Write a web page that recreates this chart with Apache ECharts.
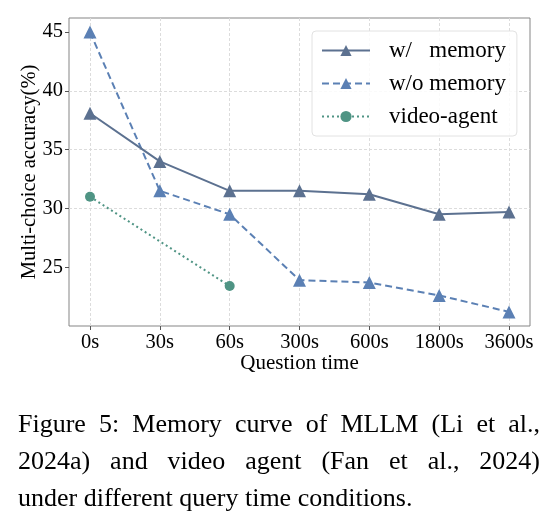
<!DOCTYPE html>
<html>
<head>
<meta charset="utf-8">
<script src="https://cdn.jsdelivr.net/npm/echarts@6/dist/echarts.min.js"></script>
<style>
  html, body { margin: 0; padding: 0; background: #fff; }
  #chart { width: 558px; height: 520px; }
</style>
</head>
<body>
<div id="chart"></div>
<script>
// categories and series values
var categories = ['0s', '30s', '60s', '300s', '600s', '1800s', '3600s'];
var withMemory = [38.1, 34.0, 31.5, 31.5, 31.2, 29.5, 29.7];
var withoutMemory = [45.0, 31.5, 29.5, 23.9, 23.7, 22.6, 21.2];
var videoAgent = [31.0, '-', 23.4];
var yTicks = [25, 30, 35, 40, 45];
var captionLines = [
  'Figure 5: Memory curve of MLLM (Li et al.,',
  '2024a) and video agent (Fan et al., 2024)',
  'under different query time conditions.'
];

var FONT = 'Liberation Serif, Times New Roman, serif';
var chart = echarts.init(document.getElementById('chart'));

// justified caption, like the paper text
var capFont = 26, capLeft = 18, capRight = 540, capTop = 425, capStep = 37;
var ctx = document.createElement('canvas').getContext('2d');
ctx.font = capFont + 'px ' + FONT;
var caption = [];
captionLines.forEach(function (line, i) {
  var y = capTop + i * capStep;
  if (i === captionLines.length - 1) {
    caption.push({ type: 'text', left: capLeft, top: y - capFont / 2,
      style: { text: line, font: capFont + 'px ' + FONT, fill: '#000' } });
    return;
  }
  var words = line.split(' ');
  var total = 0;
  words.forEach(function (w) { total += ctx.measureText(w).width; });
  var gap = (capRight - capLeft - total) / (words.length - 1);
  var x = capLeft;
  words.forEach(function (w) {
    caption.push({ type: 'text', left: x, top: y - capFont / 2,
      style: { text: w, font: capFont + 'px ' + FONT, fill: '#000' } });
    x += ctx.measureText(w).width + gap;
  });
});

var gridLine = { show: true, lineStyle: { color: '#dcdcdc', width: 1, type: [3, 2] } };

var option = {
  animation: false,
  backgroundColor: '#fff',
  textStyle: { fontFamily: FONT },
  grid: [
    { left: 69, right: 28, top: 18, bottom: 194, show: true, borderColor: '#858585', borderWidth: 1, backgroundColor: 'transparent' },
    { left: 90, right: 49, top: 18, bottom: 194 }
  ],
  legend: {
    left: 312,
    top: 31,
    orient: 'vertical',
    padding: [8, 11, 8, 9],
    itemWidth: 48,
    itemHeight: 14,
    itemGap: 10,
    backgroundColor: 'rgba(255,255,255,0.85)',
    borderColor: '#e2e2e2',
    borderWidth: 1,
    borderRadius: 4,
    textStyle: { fontFamily: FONT, fontSize: 23, color: '#000', padding: [0, 0, 0, 14] },
    data: ['w/   memory', 'w/o memory', 'video-agent']
  },
  xAxis: [
    { gridIndex: 0, type: 'value', min: 0, max: 1, show: false },
    {
      gridIndex: 1,
      type: 'category',
      data: categories,
      boundaryGap: false,
      axisLine: { show: false },
      axisTick: { show: true, length: 4, lineStyle: { color: '#555' } },
      axisLabel: { fontFamily: FONT, fontSize: 20.5, color: '#000', margin: 6 },
      splitLine: gridLine,
      name: 'Question time',
      nameLocation: 'middle',
      nameGap: 27,
      nameMoveOverlap: false,
      nameTextStyle: { fontFamily: FONT, fontSize: 21, color: '#000' }
    }
  ],
  yAxis: [
    {
      gridIndex: 0,
      type: 'value',
      min: 20,
      max: 46.2,
      interval: 5,
      axisLine: { show: false },
      axisTick: { show: true, length: 4, customValues: yTicks, lineStyle: { color: '#555' } },
      axisLabel: { fontFamily: FONT, fontSize: 20.5, color: '#000', margin: 6, customValues: yTicks },
      splitLine: { show: true, showMinLine: false, showMaxLine: false, lineStyle: gridLine.lineStyle },
      name: 'Multi-choice accuracy(%)',
      nameLocation: 'middle',
      nameGap: 29,
      nameMoveOverlap: false,
      nameTextStyle: { fontFamily: FONT, fontSize: 20.5, color: '#000' }
    },
    { gridIndex: 1, type: 'value', min: 20, max: 46.2, interval: 5, show: false }
  ],
  series: [
    {
      name: 'w/   memory',
      type: 'line',
      xAxisIndex: 1, yAxisIndex: 1,
      data: withMemory,
      symbol: 'triangle', symbolSize: 13,
      itemStyle: { color: '#5c7190' },
      lineStyle: { color: '#5c7190', width: 2 },
      z: 3
    },
    {
      name: 'w/o memory',
      type: 'line',
      xAxisIndex: 1, yAxisIndex: 1,
      data: withoutMemory,
      symbol: 'triangle', symbolSize: 13,
      itemStyle: { color: '#5b80b4' },
      lineStyle: { color: '#5b80b4', width: 2, type: [7, 4] },
      z: 2
    },
    {
      name: 'video-agent',
      type: 'line',
      xAxisIndex: 1, yAxisIndex: 1,
      data: videoAgent,
      connectNulls: true,
      symbol: 'circle', symbolSize: 10,
      itemStyle: { color: '#4f9484' },
      lineStyle: { color: '#4f9484', width: 2, type: [2, 3] },
      z: 2
    }
  ],
  graphic: caption
};
chart.setOption(option);
</script>
</body>
</html>
